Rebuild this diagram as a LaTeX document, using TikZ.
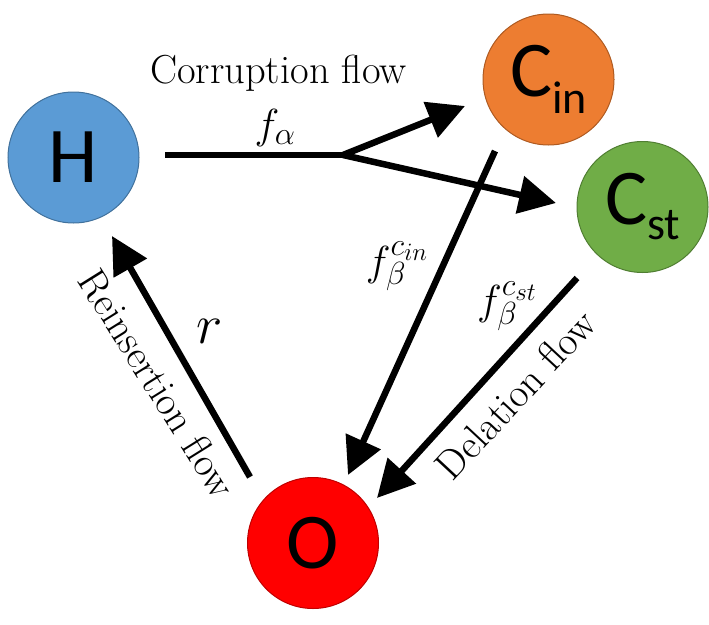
\RequirePackage{fix-cm}
\documentclass[tikz,border=0pt]{standalone}
\usepackage{fontspec}
\newfontfamily\calib{Carlito}
\usetikzlibrary{arrows.meta}
\DeclareMathSizes{42}{42}{32}{25}
\definecolor{hfill}{HTML}{5B9BD5}
\definecolor{hline}{HTML}{41719C}
\definecolor{infill}{HTML}{ED7D31}
\definecolor{inline}{HTML}{AE5A21}
\definecolor{stfill}{HTML}{70AD47}
\definecolor{stline}{HTML}{507E32}
\definecolor{ofill}{HTML}{FF0000}
\definecolor{oline}{HTML}{C00000}
\begin{document}
\begin{tikzpicture}[x=1pt,y=-1pt,
  state/.style={circle, minimum size=131pt, inner sep=0pt, line width=1pt,
    font=\calib\fontsize{79}{80}\selectfont},
  flow/.style={line width=6.5pt, line cap=butt, -{Triangle[length=37pt,width=37pt]}},
  plain/.style={line width=6.5pt, line cap=butt},
  lbl/.style={font=\fontsize{40.5}{44}\selectfont, inner sep=0pt},
  mlbl/.style={font=\fontsize{42}{44}\selectfont, inner sep=0pt}]
\useasboundingbox (0,0) rectangle (709,624);
% states
\node[state, fill=hfill, draw=hline] (H) at (73.5,157.5) {H};
\node[state, fill=infill, draw=inline] (Cin) at (548.5,79.5)
  {C\raisebox{-17pt}{\fontsize{46}{46}\selectfont in}};
\node[state, fill=stfill, draw=stline] (Cst) at (642.5,207)
  {C\raisebox{-15pt}{\fontsize{46}{46}\selectfont st}};
\node[state, fill=ofill, draw=oline] (O) at (313,543) {O};
% connector end points
\coordinate (Hout) at (165,155);
\coordinate (fork) at (343,155);
\coordinate (Cintip) at (465,106);
\coordinate (Csttip) at (556,203);
\coordinate (Cinout) at (495,151);
\coordinate (OtipA) at (348,475);
\coordinate (Cstout) at (577,278);
\coordinate (OtipB) at (377,498);
\coordinate (Oout) at (250,477);
\coordinate (Htip) at (112,236);
% connectors
\draw[plain] (Hout) -- (fork);
\draw[flow] (fork) -- (Cintip);
\draw[flow] (fork) -- (Csttip);
\draw[flow] (Cinout) -- (OtipA);
\draw[flow] (Cstout) -- (OtipB);
\draw[flow] (Oout) -- (Htip);
% labels
\node[lbl, anchor=base] (corr) at (278.5,83) {Corruption flow};
\node[mlbl] (fa) at (275,128) {$f_\alpha$};
\node[mlbl] (fbin) at (397,266) {$f_\beta^{c_{in}}$};
\node[mlbl] (fbst) at (507,306) {$f_\beta^{c_{st}}$};
\node[font=\fontsize{56}{58}\selectfont, inner sep=0pt] (rl) at (209.5,331.5) {$r$};
\node[lbl, anchor=base, rotate=47] (del) at (526,404) {Delation flow};
\node[lbl, anchor=base, rotate=-58] (rein) at (146,391) {Reinsertion flow};
\end{tikzpicture}
\end{document}
